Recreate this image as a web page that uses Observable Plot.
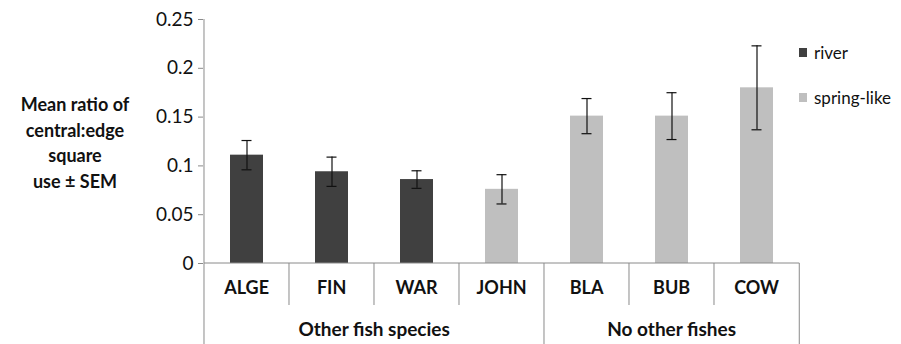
<!DOCTYPE html>
<html><head><meta charset="utf-8">
<script src="https://cdn.jsdelivr.net/npm/d3@7"></script>
<script src="https://cdn.jsdelivr.net/npm/@observablehq/plot@0.6"></script>
<style>
body{margin:0;background:#fff;font-family:Lato,"Open Sans",sans-serif;}
#wrap{position:relative;width:901px;height:344px;}
#ytitle{position:absolute;left:0;top:92px;width:150px;text-align:center;font-weight:bold;font-size:18px;line-height:25.5px;color:#111;}
#legend{position:absolute;left:799px;top:41px;font-size:17px;color:#111;}
.li{display:flex;align-items:center;height:22px;margin-bottom:23px;}
.sw{width:8px;height:9px;margin-right:7px;}
</style></head>
<body><div id="wrap"><div id="ytitle">Mean ratio of<br>central:edge<br>square<br>use ± SEM</div><div id="legend"></div></div>
<script>
const categories = ["ALGE","FIN","WAR","JOHN","BLA","BUB","COW"];
const habitat = ["river","river","river","spring-like","spring-like","spring-like","spring-like"];
const means = [0.111, 0.094, 0.086, 0.076, 0.151, 0.151, 0.180];
const sem = [0.015, 0.015, 0.009, 0.015, 0.018, 0.024, 0.043];
const groupNames = ["Other fish species","No other fishes"];
const groupOf = [0,0,0,0,1,1,1];
const yTicks = [0, 0.05, 0.1, 0.15, 0.2, 0.25];
const seriesNames = ["river","spring-like"];
const seriesColors = ["#404040","#bfbfbf"];

const data = categories.map((c,i)=>({cat:c, type:habitat[i], mean:means[i], lo:means[i]-sem[i], hi:means[i]+sem[i]}));
const axisGray = "#8a8a8a";
const PI = 0.61;

function hierAxis(index, scales, values, dims) {
  const x = scales.x, y = scales.y;
  const step = (dims.width - dims.marginLeft - dims.marginRight) / categories.length;
  const left = c => x(c) - step*PI/2;
  const right = c => left(c) + step;
  const y0 = y(0);
  const g = d3.create("svg:g");
  g.append("line").attr("x1", left(categories[0])).attr("x2", right(categories[categories.length-1]))
    .attr("y1", y0).attr("y2", y0).attr("stroke", axisGray);
  g.append("line").attr("x1", left(categories[0])).attr("x2", left(categories[0]))
    .attr("y1", y(yTicks[yTicks.length-1])).attr("y2", y0).attr("stroke", axisGray);
  categories.forEach((c,i)=>{
    const isGroupStart = i===0 || groupOf[i]!==groupOf[i-1];
    g.append("line").attr("x1", left(c)).attr("x2", left(c)).attr("y1", y0)
      .attr("y2", isGroupStart ? dims.height : y0+42).attr("stroke", axisGray);
    g.append("text").attr("x", left(c)+step/2).attr("y", y0+31).attr("text-anchor","middle")
      .attr("font-weight","bold").attr("font-size",18).attr("fill","#111").text(c);
  });
  const last = categories[categories.length-1];
  g.append("line").attr("x1", right(last)).attr("x2", right(last)).attr("y1", y0)
    .attr("y2", dims.height).attr("stroke", axisGray);
  groupNames.forEach((gn,gi)=>{
    const cs = categories.filter((c,i)=>groupOf[i]===gi);
    const cx = (left(cs[0]) + right(cs[cs.length-1]))/2;
    g.append("text").attr("x", cx).attr("y", y0+73).attr("text-anchor","middle")
      .attr("font-weight","bold").attr("font-size",19).attr("fill","#111").text(gn);
  });
  return g.node();
}

const plot = Plot.plot({
  width: 901, height: 344,
  marginLeft: 203, marginRight: 101, marginTop: 19, marginBottom: 81,
  style: {fontFamily: "Lato, 'Open Sans', sans-serif", background: "#fff"},
  x: {domain: categories, paddingInner: PI, paddingOuter: PI/2, axis: null},
  y: {domain: [0, 0.25], axis: null},
  color: {domain: seriesNames, range: seriesColors},
  marks: [
    Plot.axisY({ticks: yTicks, tickSize: 5, tickPadding: 5, fontSize: 19, stroke: axisGray, fill: "#111",
      tickFormat: d => String(d), label: null}),
    Plot.barY(data, {x: "cat", y: "mean", fill: "type"}),
    Plot.ruleX(data, {x: "cat", y1: "lo", y2: "hi", stroke: "#111", strokeWidth: 1.2}),
    Plot.tickY(data, {x: "cat", y: "lo", stroke: "#111", strokeWidth: 1.2, insetLeft: 11.5, insetRight: 11.5}),
    Plot.tickY(data, {x: "cat", y: "hi", stroke: "#111", strokeWidth: 1.2, insetLeft: 11.5, insetRight: 11.5}),
    hierAxis
  ]
});
document.getElementById("wrap").prepend(plot);
const leg = document.getElementById("legend");
seriesNames.forEach((s,i)=>{
  const d = document.createElement("div"); d.className="li";
  d.innerHTML = `<span class="sw" style="background:${seriesColors[i]}"></span><span>${s}</span>`;
  leg.appendChild(d);
});
</script></body></html>
